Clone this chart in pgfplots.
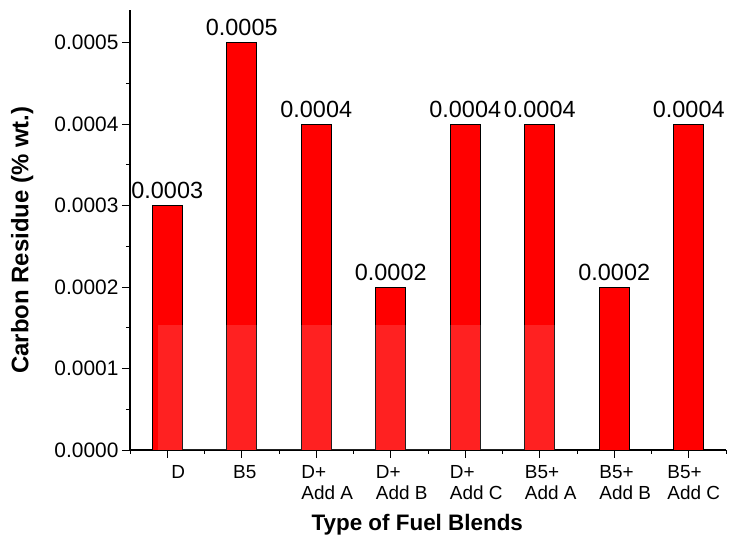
\documentclass[border=0pt]{standalone}
\usepackage{pgfplots}
\pgfplotsset{compat=1.18}
\usepackage{fontspec}
\setmainfont{Liberation Sans}
\begin{document}
\begin{tikzpicture}
\begin{axis}[
  scale only axis, width=596bp, height=440bp,
  xmin=0.5, xmax=8.5, ymin=0, ymax=0.00054,
  axis x line*=bottom, axis y line*=left,
  axis line style={line width=1.2pt},
  tick align=outside,
  major tick length=8bp, minor tick length=4bp,
  tick style={black, line width=1pt},
  xtick={1,2,3,4,5,6,7,8},
  minor xtick={0.5,1.5,2.5,3.5,4.5,5.5,6.5,7.5,8.5},
  xticklabels={D, {\hspace*{-16bp}B5}, {D+\\Add A}, {D+\\Add B}, {D+\\Add C}, {B5+\\Add A}, {B5+\\Add B}, {\hspace*{-12bp}B5+\\\hspace*{-12bp}Add C}},
  xticklabel style={align=left, font=\fontsize{19}{21}\selectfont, xshift=11bp, yshift=-4bp, anchor=north},
  ytick={0,0.0001,0.0002,0.0003,0.0004,0.0005},
  minor ytick={0.00005,0.00015,0.00025,0.00035,0.00045},
  scaled y ticks=false,
  yticklabel style={/pgf/number format/fixed, /pgf/number format/precision=4, /pgf/number format/fixed zerofill, /pgf/number format/assume math mode=true, font=\fontsize{21}{23}\selectfont},
  ylabel={\textbf{Carbon Residue (\% wt.)}},
  ylabel style={font=\fontsize{24}{26}\selectfont, at={(axis description cs:-0.181,0.477)}, anchor=center, rotate=0},
  xlabel={\textbf{Type of Fuel Blends}},
  xlabel style={font=\fontsize{22.5}{24}\selectfont, at={(axis description cs:0.482,-0.17)}, anchor=center},
  ybar, bar width=30bp,
  nodes near coords,
  every node near coord/.append style={/pgf/number format/fixed, /pgf/number format/precision=4, /pgf/number format/fixed zerofill, /pgf/number format/assume math mode=true, font=\fontsize{23.5}{25}\selectfont, black, yshift=3bp},
  clip=false,
]
\addplot[fill=red, draw=black, line width=0.8pt] coordinates {
  (1,0.0003) (2,0.0005) (3,0.0004) (4,0.0002) (5,0.0004) (6,0.0004) (7,0.0002) (8,0.0004)
};
\fill[white, opacity=0.13] (axis cs:0.876,0) rectangle (axis cs:6.2,0.000153);
\end{axis}
\path (current axis.south west) ++(-130bp,-95bp);
\path (current axis.north east) ++(3bp,10bp);
\end{tikzpicture}
\end{document}
